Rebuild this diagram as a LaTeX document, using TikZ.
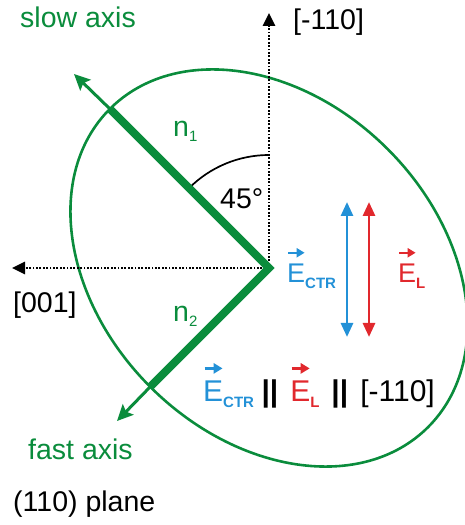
\documentclass[tikz,border=0pt]{standalone}
\usepackage{fontspec}
\setmainfont{Liberation Sans}
\usetikzlibrary{arrows.meta}
\definecolor{sgreen}{RGB}{10,140,60}
\definecolor{eblue}{RGB}{35,145,215}
\definecolor{ered}{RGB}{225,40,45}
\newcommand\vecarr[1]{\tikz[baseline=0pt]\draw[#1,line width=0.09em,-{Triangle[length=0.3em,width=0.34em]}] (0pt,0pt)--(0.6em,0pt);}
\newcommand\vE[1]{\rlap{\raisebox{1.12em}{\vecarr{#1}}}E}
\newcommand\subsc[1]{\raisebox{-0.2em}{\fontsize{15}{15}\selectfont\bfseries #1}}
\newcommand\subn[1]{\raisebox{-0.15em}{\fontsize{15}{15}\selectfont #1}}
\begin{document}
\begin{tikzpicture}[x=1pt,y=1pt,
  lbl/.style={inner sep=0pt, anchor=base west, font=\fontsize{28.5}{32}\selectfont},
  midlbl/.style={lbl, font=\fontsize{27}{32}\selectfont},
  botlbl/.style={lbl, font=\fontsize{30}{34}\selectfont},
  dotarrow/.style={line width=2.6pt, dash pattern=on 1.8pt off 1.6pt, -{Triangle[length=13pt,width=12pt]}},
  thickaxis/.style={sgreen, line width=8pt, miter limit=10},
  thinaxis/.style={sgreen, line width=3pt, -{Stealth[length=16pt,width=15pt,inset=3pt]}},
  efield/.style={line width=2.8pt, {Triangle[length=14pt,width=12pt]}-{Triangle[length=14pt,width=12pt]}}
]
\useasboundingbox (0,0) rectangle (464,525);

\coordinate (O) at (269,257);
\coordinate (up) at (269,512);
\coordinate (left) at (12,257);
\coordinate (s1) at (110,416);
\coordinate (s2) at (74,451);
\coordinate (f1) at (150,138);
\coordinate (f2) at (117,104);
\coordinate (b1) at (347,323);
\coordinate (b2) at (347,188);
\coordinate (r1) at (369,323);
\coordinate (r2) at (369,188);

% ellipse
\draw[sgreen, line width=2.6pt, rotate around={-45:(O)}] (O) ellipse [x radius=225, y radius=168];

% dotted axes
\draw[dotarrow] (O) -- (up);
\draw[dotarrow] (O) -- (left);

% angle arc
\draw[line width=1.7pt] ([shift={(90:113)}]O) arc[start angle=90, end angle=135, radius=113];

% green axes
\draw[thickaxis] (s1) -- (O) -- (f1);
\draw[thinaxis] (s1) -- (s2);
\draw[thinaxis] (f1) -- (f2);

% field arrows
\draw[efield, eblue] (b2) -- (b1);
\draw[efield, ered] (r2) -- (r1);

% labels
\node[lbl, sgreen] (slow) at (20,497) {slow axis};
\node[lbl] (t110) at (293,495) {[-110]};
\node[lbl] (t001) at (13,212) {[001]};
\node[lbl, sgreen] (fast) at (28,65) {fast axis};
\node[lbl] (plane) at (13,13) {(110) plane};
\node[lbl] (ang) at (220,316) {45°};
\node[lbl, sgreen] (n1) at (173,388) {n\subn{1}};
\node[lbl, sgreen] (n2) at (173,203) {n\subn{2}};
\node[midlbl, eblue] (ectr) at (287,242) {\vE{eblue}\subsc{CTR}};
\node[midlbl, ered] (el) at (398,242) {\vE{ered}\subsc{L}};
\node[botlbl] (eq) at (203,123) {{\color{eblue}\vE{eblue}\subsc{CTR}}\hspace{0.25em}\textbf{||}\hspace{0.4em}{\color{ered}\vE{ered}\subsc{L}}\hspace{0.4em}\textbf{||}\hspace{0.4em}[-110]};
\end{tikzpicture}
\end{document}
